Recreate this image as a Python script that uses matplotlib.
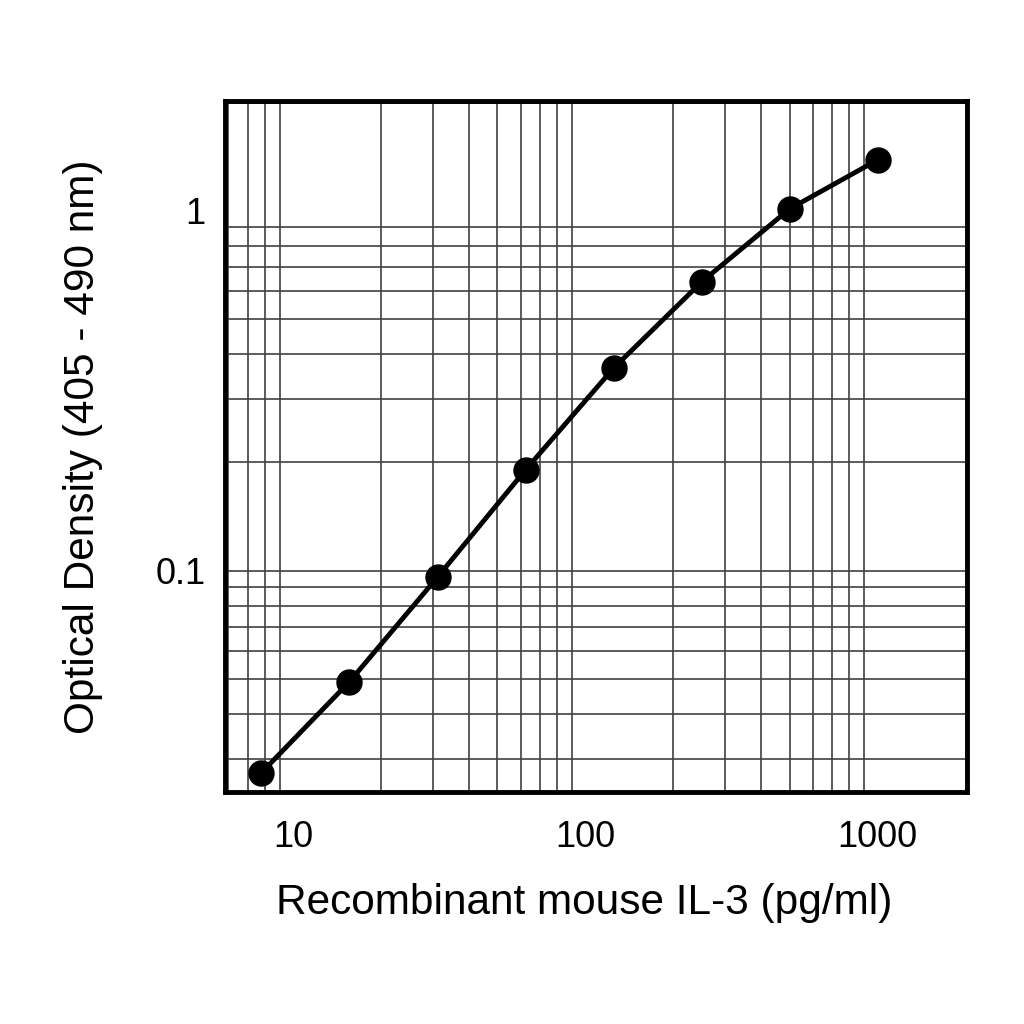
import matplotlib
matplotlib.use("Agg")
import matplotlib.pyplot as plt
from matplotlib.ticker import LogLocator, NullFormatter, FixedLocator

# standard curve, two-fold dilutions
concentration = [7.8, 15.6, 31.25, 62.5, 125, 250, 500, 1000]
optical_density = [0.0275, 0.0492, 0.0962, 0.191, 0.366, 0.635, 1.013, 1.386]

x_ticks = [10, 100, 1000]
x_tick_labels = ["10", "100", "1000"]
y_ticks = [0.1, 1]
y_tick_labels = ["0.1", "1"]

plt.rcParams["font.family"] = ["Liberation Sans", "DejaVu Sans"]

fig = plt.figure(figsize=(10.24, 10.24), dpi=100)
ax = fig.add_axes([0.2197, 0.2266, 0.7246, 0.6748])

ax.set_xscale("log")
ax.set_yscale("log")
ax.set_xlim(5.85, 2020)
ax.set_ylim(0.0243, 2.02)

ax.xaxis.set_minor_locator(LogLocator(base=10, subs=range(2, 10)))
ax.yaxis.set_minor_locator(LogLocator(base=10, subs=range(2, 10)))
ax.xaxis.set_minor_formatter(NullFormatter())
ax.yaxis.set_minor_formatter(NullFormatter())
ax.xaxis.set_major_locator(FixedLocator(x_ticks))
ax.yaxis.set_major_locator(FixedLocator(y_ticks))
ax.set_xticklabels(x_tick_labels)
ax.set_yticklabels(y_tick_labels)

ax.grid(which="minor", color="#404040", linewidth=1.2)
ax.axhline(0.1, color="#404040", linewidth=1.2, zorder=0.5)
ax.set_axisbelow(True)

ax.plot(concentration, optical_density, color="black", linewidth=3.5,
        marker="o", markersize=18, zorder=3, clip_on=False)

for s in ax.spines.values():
    s.set_linewidth(3.5)
    s.set_color("black")

ax.tick_params(which="both", length=0)
ax.tick_params(axis="x", labelsize=26, pad=20)
ax.tick_params(axis="y", labelsize=26, pad=14)

ax.set_xlabel("Recombinant mouse IL-3 (pg/ml)", fontsize=30.5, labelpad=20)
ax.set_ylabel("Optical Density (405 - 490 nm)", fontsize=30.5, labelpad=38)
ax.xaxis.label.set_x(0.484)

fig.savefig("out.png", dpi=100)
